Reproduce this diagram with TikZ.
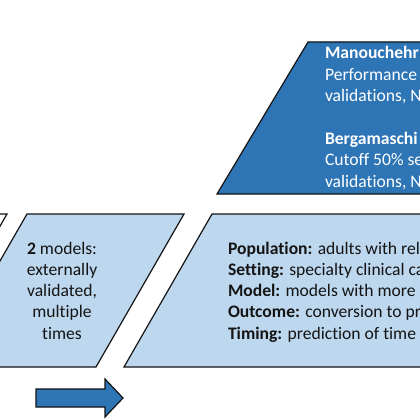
\documentclass[tikz,border=0pt]{standalone}
\usepackage{fontspec}
\setmainfont[RawFeature=-liga]{Carlito}
\definecolor{darkfill}{RGB}{46,117,182}
\definecolor{lightfill}{RGB}{189,215,238}
\definecolor{inkc}{RGB}{20,20,20}
\tikzset{
  shapeline/.style={draw=inkc, line width=1.2pt, line join=miter},
  lightshape/.style={shapeline, fill=lightfill},
  darkshape/.style={shapeline, fill=darkfill},
  txt/.style={inner sep=0pt, outer sep=0pt, text=inkc, font=\fontsize{17.6}{21.3}\selectfont},
  wtxt/.style={txt, text=white},
}
\begin{document}
\begin{tikzpicture}[x=1pt,y=-1pt]
\useasboundingbox (0,0) rectangle (420,420);
\clip (0,0) rectangle (420,420);
\fill[white] (0,0) rectangle (420,420);
% leftmost (clipped) panel
\draw[shapeline, fill=white] (-250,214) -- (7,214) -- (-81,367) -- (-250,367) -- cycle;
% second panel
\draw[lightshape] (27,214) -- (184,214) -- (96,367) -- (-61,367) -- cycle;
% third panel
\draw[lightshape] (212,214) -- (650,214) -- (650,367) -- (124,367) -- cycle;
% top trapezoid
\draw[darkshape] (308,42) -- (650,42) -- (650,194) -- (217,194) -- cycle;
% arrow
\draw[darkshape] (36,389) -- (105,389) -- (105,379) -- (123,398) -- (105,417) -- (105,407) -- (36,407) -- cycle;
% top trapezoid text
\node[wtxt, anchor=base west] (m1) at (325,59) {\textbf{Manouchehr}};
\node[wtxt, anchor=base west] (m2) at (325,80.3) {Performance};
\node[wtxt, anchor=base west] (m3) at (325,101.7) {validations, N};
\node[wtxt, anchor=base west] (b1) at (325,144.3) {\textbf{Bergamaschi}};
\node[wtxt, anchor=base west] (b2) at (325,165.7) {Cutoff 50\% se};
\node[wtxt, anchor=base west] (b3) at (325,187) {validations, N};
% second panel text
\node[txt, anchor=base] (s1) at (62,254) {\textbf{2} models:};
\node[txt, anchor=base] (s2) at (62,275.3) {externally};
\node[txt, anchor=base] (s3) at (62,296.6) {validated,};
\node[txt, anchor=base] (s4) at (62,317.9) {multiple};
\node[txt, anchor=base] (s5) at (62,339.2) {times};
% third panel text
\node[txt, anchor=base west] (p1) at (228,254) {\textbf{Population:} adults with rel};
\node[txt, anchor=base west] (p2) at (228,275.3) {\textbf{Setting:} specialty clinical ca};
\node[txt, anchor=base west] (p3) at (228,296.6) {\textbf{Model:} models with more};
\node[txt, anchor=base west] (p4) at (228,317.9) {\textbf{Outcome:} conversion to pr};
\node[txt, anchor=base west] (p5) at (228,339.2) {\textbf{Timing:} prediction of time};
\end{tikzpicture}
\end{document}
